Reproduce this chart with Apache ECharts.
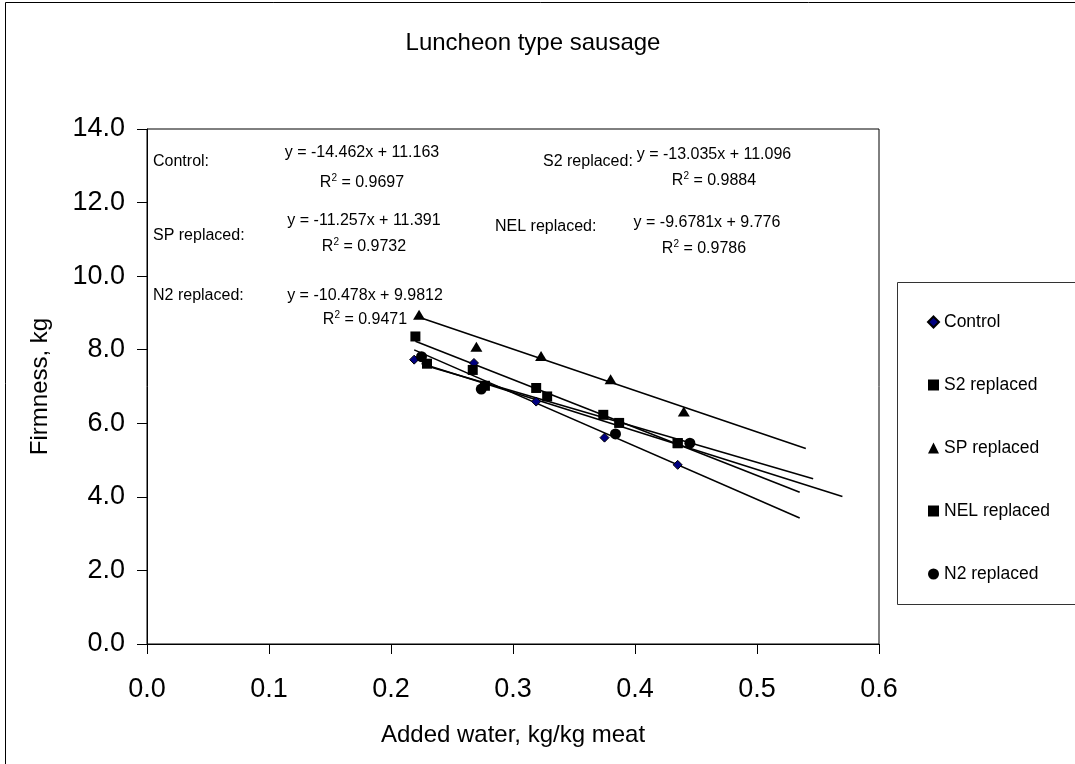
<!DOCTYPE html>
<html><head><meta charset="utf-8">
<script src="https://cdn.jsdelivr.net/npm/echarts@6/dist/echarts.min.js"></script>
<style>html,body{margin:0;padding:0;background:#fff}#c{width:1075px;height:764px}</style>
</head><body><div id="c"></div>
<script>
// ---- data ----
const seriesNames = ['Control', 'S2 replaced', 'SP replaced', 'NEL replaced', 'N2 replaced'];
const controlX = [0.219, 0.268, 0.319, 0.375, 0.435];
const controlY = [7.73, 7.64, 6.59, 5.61, 4.87];
const s2X = [0.220, 0.267, 0.319, 0.374, 0.435];
const s2Y = [8.36, 7.45, 6.96, 6.23, 5.46];
const spX = [0.223, 0.270, 0.323, 0.380, 0.440];
const spY = [8.95, 8.08, 7.83, 7.20, 6.32];
const nelX = [0.2295, 0.277, 0.328, 0.387, 0.435];
const nelY = [7.62, 7.02, 6.73, 6.01, 5.46];
const n2X = [0.225, 0.274, 0.384, 0.445];
const n2Y = [7.81, 6.93, 5.71, 5.46];
const slopes = [-14.462, -13.035, -11.257, -9.6781, -10.478];
const intercepts = [11.163, 11.096, 11.391, 9.776, 9.9812];
const rSquared = [0.9697, 0.9884, 0.9732, 0.9786, 0.9471];
const trendStart = [0.219, 0.220, 0.223, 0.2295, 0.225];
const trendEnd = [0.535, 0.535, 0.540, 0.546, 0.570];
const xTickLabels = ['0.0', '0.1', '0.2', '0.3', '0.4', '0.5', '0.6'];
const yTickLabels = ['0.0', '2.0', '4.0', '6.0', '8.0', '10.0', '12.0', '14.0'];
const titleText = 'Luncheon type sausage';
const xAxisTitle = 'Added water, kg/kg meat';
const yAxisTitle = 'Firmness, kg';

// ---- styles / layout ----
const FONT = '"Liberation Sans", Arial, sans-serif';
const xs = [controlX, s2X, spX, nelX, n2X];
const ys = [controlY, s2Y, spY, nelY, n2Y];
const symbols = ['diamond', 'rect', 'triangle', 'rect', 'circle'];
const symSizes = [9, 10, [12, 10], 10, 11];
const colors = ['#000080', '#000', '#000', '#000', '#000'];

// annotation layout: [labelX, labelY, eqX, eqY, r2X, r2Y]
const annLayout = [
  [153, 162, 362, 153, 362, 182],
  [543, 162, 714, 155, 714, 180],
  [153, 236, 364, 221, 364, 246],
  [495, 227, 707, 223, 704, 248],
  [153, 296, 365, 296, 365, 319]
];

const series = [];
for (let i = 0; i < 5; i++) {
  series.push({
    name: seriesNames[i], type: 'scatter',
    symbol: symbols[i], symbolSize: symSizes[i],
    itemStyle: { color: colors[i], borderColor: '#000', borderWidth: i === 0 ? 1 : 0, opacity: 1 },
    data: xs[i].map((x, j) => [x, ys[i][j]]), z: 3
  });
}
for (let i = 0; i < 5; i++) {
  series.push({
    name: seriesNames[i] + ' trend', type: 'line', symbol: 'none', silent: true,
    lineStyle: { color: '#000', width: 1.6 },
    data: [trendStart[i], trendEnd[i]].map(x => [x, slopes[i] * x + intercepts[i]]), z: 2
  });
}

const graphic = [
  { type: 'rect', shape: { x: 5.5, y: 2.5, width: 1090, height: 800 }, style: { fill: 'none', stroke: '#000', lineWidth: 1 }, z: -10 },
  { type: 'rect', shape: { x: 897.5, y: 282.5, width: 200, height: 322 }, style: { fill: '#fff', stroke: '#333', lineWidth: 1 }, z: -5 },
  { type: 'text', style: { text: titleText, x: 533, y: 43, align: 'center', verticalAlign: 'middle', font: '24px ' + FONT, fill: '#000' } }
];
for (let i = 0; i < 5; i++) {
  const L = annLayout[i];
  const eq = 'y = ' + slopes[i] + 'x + ' + intercepts[i];
  graphic.push({ type: 'text', style: { text: seriesNames[i] + ':', x: L[0], y: L[1], align: 'left', verticalAlign: 'middle', font: '16px ' + FONT, fill: '#000' } });
  graphic.push({ type: 'text', style: { text: eq, x: L[2], y: L[3], align: 'center', verticalAlign: 'middle', font: '16px ' + FONT, fill: '#000' } });
  graphic.push({ type: 'text', style: {
    text: '{n|R}{sup|2}{n| = ' + rSquared[i] + '}', x: L[4], y: L[5], align: 'center', verticalAlign: 'middle', fill: '#000',
    font: '16px ' + FONT,
    rich: { n: { fontSize: 16, fontFamily: FONT, lineHeight: 18, verticalAlign: 'bottom' }, sup: { fontSize: 10, fontFamily: FONT, verticalAlign: 'top', lineHeight: 18 } }
  } });
}

const chart = echarts.init(document.getElementById('c'), null, { renderer: 'canvas' });
chart.setOption({
  animation: false,
  backgroundColor: '#fff',
  textStyle: { fontFamily: FONT },
  grid: { left: 147, right: 196, top: 129, bottom: 120, show: true, borderColor: '#000', borderWidth: 1, backgroundColor: 'transparent' },
  xAxis: {
    type: 'value', min: 0, max: 0.6, interval: 0.1,
    name: xAxisTitle, nameLocation: 'middle', nameGap: 79,
    nameTextStyle: { fontSize: 24, color: '#000', fontFamily: FONT },
    axisLine: { lineStyle: { color: '#000', width: 1 } },
    axisTick: { show: true, length: 10, lineStyle: { color: '#000' } },
    axisLabel: { margin: 32, fontSize: 27, color: '#000', fontFamily: FONT, formatter: (v) => xTickLabels[Math.round(v * 10)] },
    splitLine: { show: false }
  },
  yAxis: {
    type: 'value', min: 0, max: 14, interval: 2,
    name: yAxisTitle, nameLocation: 'middle', nameGap: 95, nameRotate: 90,
    nameTextStyle: { fontSize: 24, color: '#000', fontFamily: FONT },
    axisLine: { show: true, lineStyle: { color: '#000', width: 1 } },
    axisTick: { show: true, length: 10, lineStyle: { color: '#000' } },
    axisLabel: { margin: 22, fontSize: 27, color: '#000', fontFamily: FONT, formatter: (v) => yTickLabels[Math.round(v / 2)] },
    splitLine: { show: false }
  },
  legend: {
    orient: 'vertical', left: 922, top: 308, itemGap: 45, itemWidth: 11, itemHeight: 11,
    data: seriesNames, textStyle: { fontSize: 17.5, color: '#000', fontFamily: FONT },
    selectedMode: false
  },
  graphic: graphic,
  series: series
});
</script></body></html>
